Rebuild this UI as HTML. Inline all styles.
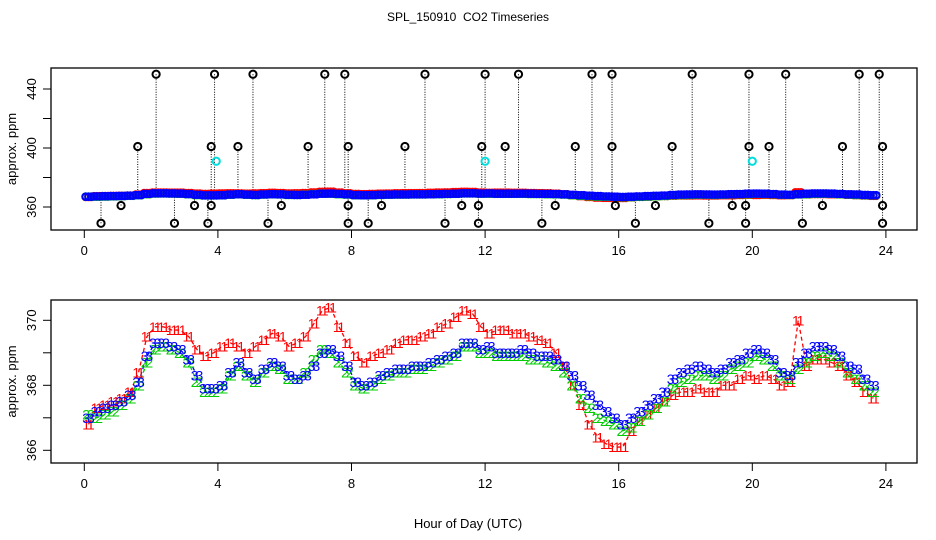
<!DOCTYPE html>
<html><head><meta charset="utf-8"><style>
body{margin:0;background:#fff}
svg{display:block;font-family:"Liberation Sans",sans-serif}
</style></head><body>
<svg id="c" width="936" height="540" viewBox="0 0 936 540">
<text x="468" y="21" font-size="12" text-anchor="middle">SPL_150910 &#160;CO2 Timeseries</text>
<text x="468" y="528" font-size="13" text-anchor="middle">Hour of Day (UTC)</text>
<g id="top"></g>
<g id="bot"></g>
</svg>
<script>
const hourTicks=[0,4,8,12,16,20,24];
const topTicks=[360,380,400,420,440];
const topTickLabels=["360","","400","","440"];
const botTicks=[366,367,368,369,370];
const botTickLabels=["366","","368","","370"];
const times=[];for(let i=0;i<95;i++)times.push(0.125+i*0.25);
const series3=[367.0,367.2,367.3,367.4,367.5,367.7,368.1,368.9,369.3,369.3,369.2,369.1,368.8,368.3,367.9,367.9,368.0,368.4,368.7,368.4,368.2,368.5,368.7,368.6,368.3,368.2,368.3,368.6,369.0,369.1,368.9,368.6,368.1,368.0,368.1,368.3,368.4,368.5,368.5,368.6,368.6,368.7,368.8,368.9,369.0,369.3,369.3,369.1,369.2,369.0,369.0,369.0,369.1,369.0,368.9,368.9,368.8,368.6,368.3,368.0,367.7,367.4,367.2,367.0,366.8,367.0,367.2,367.4,367.6,367.8,368.2,368.4,368.5,368.6,368.5,368.4,368.5,368.7,368.8,369.0,369.1,369.0,368.8,368.4,368.3,368.7,369.0,369.2,369.2,369.1,368.9,368.6,368.5,368.2,368.0];
const series1=[366.8,367.3,367.4,367.5,367.6,367.8,368.4,369.5,369.8,369.8,369.7,369.7,369.5,369.1,368.9,369.0,369.2,369.3,369.2,369.0,369.2,369.4,369.6,369.5,369.2,369.3,369.5,369.9,370.3,370.4,369.8,369.3,368.9,368.7,368.9,369.0,369.1,369.3,369.4,369.4,369.5,369.6,369.8,369.9,370.1,370.3,370.2,369.8,369.6,369.7,369.7,369.6,369.6,369.5,369.4,369.3,369.0,368.6,368.0,367.4,366.8,366.4,366.2,366.1,366.1,366.6,366.9,367.1,367.3,367.5,367.7,367.8,367.8,367.9,367.8,367.8,368.0,368.0,368.2,368.3,368.2,368.3,368.2,368.0,368.1,370.0,368.6,368.8,368.8,368.7,368.6,368.3,368.1,367.8,367.6];
const series2=[367.1,367.0,367.1,367.2,367.4,367.6,368.0,368.7,369.1,369.2,369.1,369.0,368.7,368.1,367.8,367.8,367.9,368.3,368.6,368.3,368.1,368.4,368.6,368.5,368.2,368.2,368.4,368.8,369.1,369.0,368.7,368.4,368.0,367.9,368.0,368.2,368.3,368.4,368.4,368.5,368.5,368.6,368.7,368.8,368.9,369.2,369.2,369.0,369.0,368.9,368.9,368.9,368.9,368.8,368.8,368.7,368.6,368.4,368.0,367.6,367.3,367.0,366.9,366.8,366.6,366.7,366.9,367.1,367.3,367.5,367.9,368.1,368.2,368.3,368.3,368.2,368.3,368.5,368.6,368.7,368.9,368.8,368.6,368.3,368.2,368.5,368.7,368.9,369.0,368.9,368.7,368.4,368.2,368.0,367.8];
const outlierTimes=[2.15,3.9,5.05,7.2,7.8,10.2,12.0,13.0,15.2,15.8,18.2,19.9,21.0,23.2,23.8,1.6,3.8,4.6,6.7,7.9,9.6,11.9,12.6,14.7,15.8,17.6,19.9,20.5,22.7,23.9,1.1,3.3,3.8,5.9,7.9,8.9,11.3,11.8,14.1,15.9,17.1,19.4,19.8,22.1,23.9,0.5,2.7,3.7,5.5,7.9,8.5,10.8,11.8,13.7,16.5,18.7,19.8,21.5,23.9];
const outlierValues=[450,450,450,450,450,450,450,450,450,450,450,450,450,450,450,401,401,401,401,401,401,401,401,401,401,401,401,401,401,401,361,361,361,361,361,361,361,361,361,361,361,361,361,361,361,349,349,349,349,349,349,349,349,349,349,349,349,349,349];
const cyanTimes=[3.95,12.0,20.0];
const cyanValues=[391,391,391];

const NS="http://www.w3.org/2000/svg";
const X=h=>84.3+h*33.4;
const Yt=v=>207-(v-360)*1.475;
const Yb=v=>320.3+(370-v)*32.5;
function mk(p,tag,a){const e=document.createElementNS(NS,tag);for(const k in a)e.setAttribute(k,a[k]);p.appendChild(e);return e;}
function frame(g,t0,b0,ticks,labels,Y,nm){
  const r=mk(g,'rect',{x:51,y:t0,width:866,height:b0-t0,fill:'none',stroke:'#000','stroke-width':1.3});
  
  
  ticks.forEach((t,i)=>{
    const y=Y(t);
    const l=mk(g,'line',{x1:43,x2:51,y1:y,y2:y,stroke:'#000'});
    
    
    if(labels[i]){const tx=mk(g,'text',{x:0,y:0,'font-size':13,'text-anchor':'middle',transform:`translate(36,${y}) rotate(-90)`});tx.textContent=labels[i];
      
      }
  });
  hourTicks.forEach(h=>{
    const x=X(h);
    const l=mk(g,'line',{x1:x,x2:x,y1:b0,y2:b0+8,stroke:'#000'});
    
    
    const tx=mk(g,'text',{x:x,y:b0+25,'font-size':13,'text-anchor':'middle'});tx.textContent=h;
    
    
  });
  const yl=mk(g,'text',{x:0,y:0,'font-size':13,'text-anchor':'middle',transform:`translate(16,${(t0+b0)/2}) rotate(-90)`});yl.textContent='approx. ppm';
  
  
}
const gTop=document.getElementById('top'),gBot=document.getElementById('bot');
frame(gTop,68,230,topTicks,topTickLabels,Yt,'top');
frame(gBot,300,463,botTicks,botTickLabels,Yb,'bottom');
outlierTimes.forEach((t,i)=>{
  const x=X(t),y=Yt(outlierValues[i]);
  const base=Yt(367);
  const l=mk(gTop,'line',{x1:x,x2:x,y1:y,y2:base,stroke:'#000','stroke-dasharray':'1,1.5','stroke-width':1});
  
  
});
[[series1,'#f00'],[series2,'#0c0'],[series3,'#00f']].forEach(([s,c])=>{
  s.forEach((v,i)=>{
    for(const d of [-0.085,0,0.085]){
      const ci=mk(gTop,'circle',{cx:X(times[i]+d),cy:Yt(v),r:3.3,fill:'none',stroke:c,'stroke-width':2});
      
      
    }
  });
});
outlierTimes.forEach((t,i)=>{
  const ci=mk(gTop,'circle',{cx:X(t),cy:Yt(outlierValues[i]),r:3.6,fill:'none',stroke:'#000','stroke-width':2});
  
  
});
cyanTimes.forEach((t,i)=>{
  const ci=mk(gTop,'circle',{cx:X(t),cy:Yt(cyanValues[i]),r:3.6,fill:'none',stroke:'#0dd','stroke-width':2});
  
  
});
[[series1,'#f00','1'],[series2,'#0c0','2'],[series3,'#00f','3']].forEach(([s,c,lab])=>{
  const pts=s.map((v,i)=>X(times[i])+','+Yb(v)).join(' ');
  const pl=mk(gBot,'polyline',{points:pts,fill:'none',stroke:c,'stroke-width':1.3,'stroke-dasharray':'4,3'});
  
  
});
[[series1,'#f00','1'],[series2,'#0c0','2'],[series3,'#00f','3']].forEach(([s,c,lab])=>{
  s.forEach((v,i)=>{
    for(const d of [-0.07,0.07]){
      const t=mk(gBot,'text',{x:X(times[i]+d),y:Yb(v)+5,'font-size':14,fill:c,'text-anchor':'middle'});t.textContent=lab;
      
      
    }
  });
});
</script>
</body></html>
